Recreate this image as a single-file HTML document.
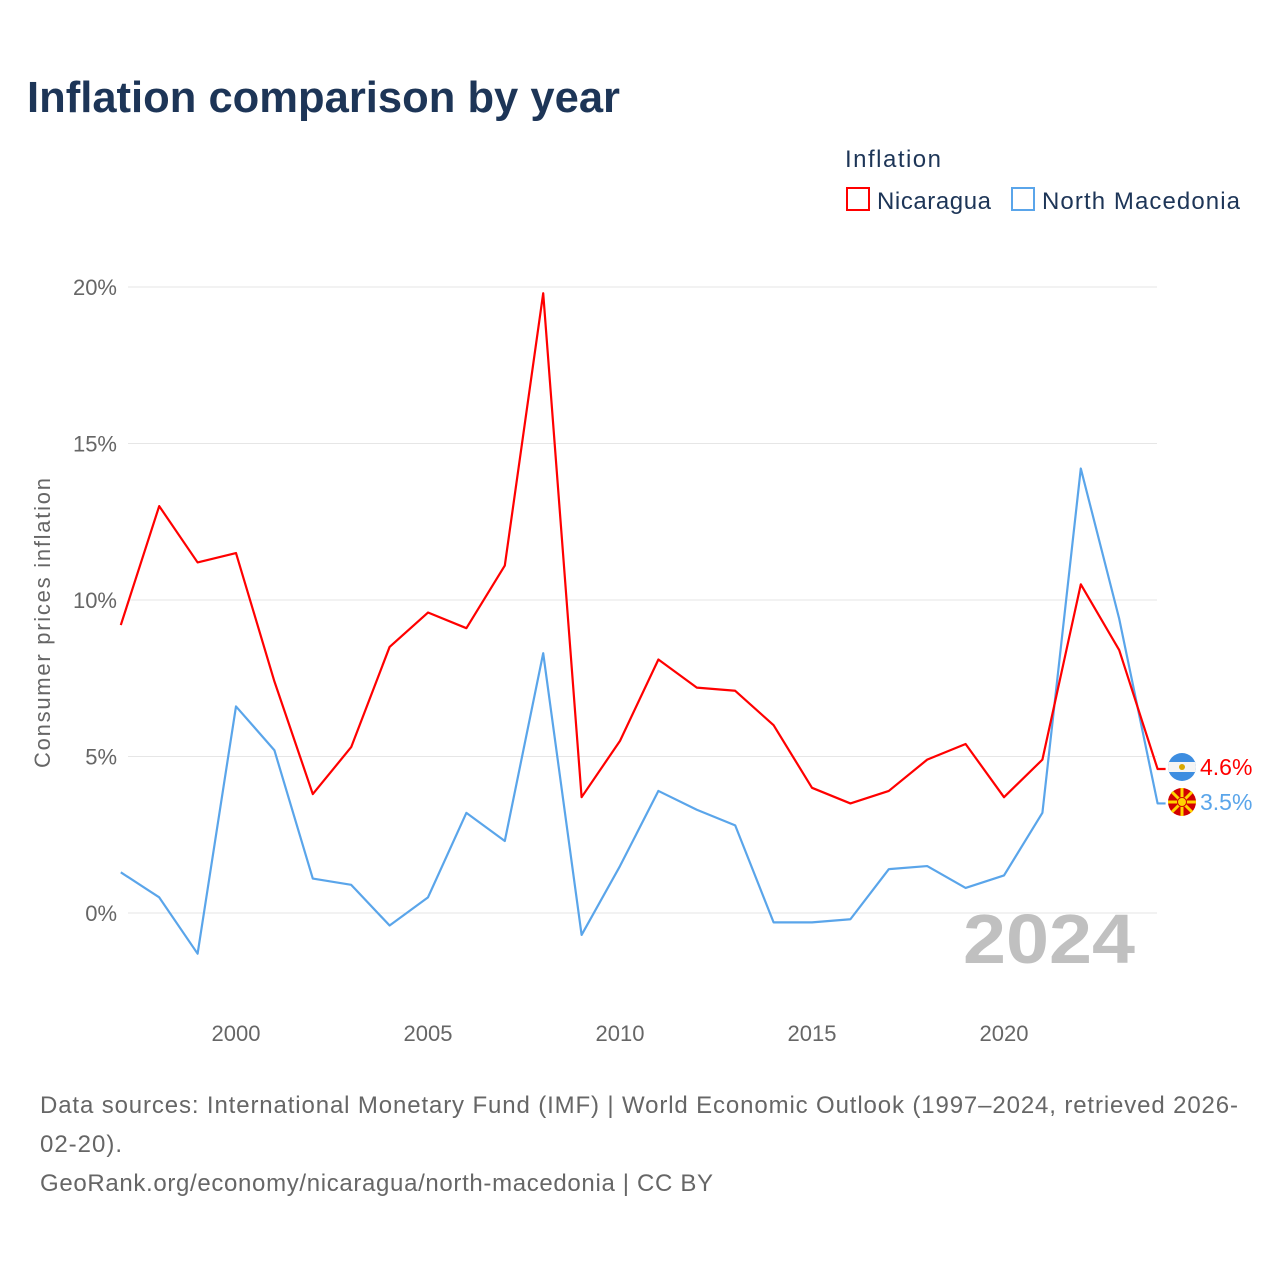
<!DOCTYPE html>
<html><head><meta charset="utf-8"><style>
body{margin:0;background:#fff;font-family:"Liberation Sans",sans-serif;}
</style></head><body>
<svg id="c" width="1280" height="1280" xmlns="http://www.w3.org/2000/svg">
<text x="27" y="112" font-size="44" font-weight="bold" fill="#1d3557" textLength="593" lengthAdjust="spacingAndGlyphs">Inflation comparison by year</text>
<text x="845" y="167" font-size="24" fill="#1d3557" textLength="96">Inflation</text>
<g><rect x="847" y="188" width="22" height="22" fill="none" stroke="#f00" stroke-width="2"/><text x="877" y="209" font-size="24" fill="#1d3557" textLength="114">Nicaragua</text></g>
<g><rect x="1012" y="188" width="22" height="22" fill="none" stroke="#5aa5ea" stroke-width="2"/><text x="1042" y="209" font-size="24" fill="#1d3557" textLength="198">North Macedonia</text></g>
<g id="grid"></g>
<text transform="translate(50,623) rotate(-90)" text-anchor="middle" font-size="22" fill="#666" textLength="290">Consumer prices inflation</text>
<text x="1135" y="963" text-anchor="end" font-size="70" font-weight="bold" fill="#c0c0c0" textLength="172" lengthAdjust="spacingAndGlyphs">2024</text>
<g id="lines"></g>
<g><clipPath id="cn"><circle cx="1182" cy="767" r="14"/></clipPath><g clip-path="url(#cn)"><rect x="1168" y="753" width="28" height="28" fill="#3d8de0"/><rect x="1168" y="762" width="28" height="10" fill="#f4f4f4"/><circle cx="1182" cy="767" r="3" fill="#d8a800"/></g></g>
<g><circle cx="1182" cy="802" r="14" fill="#d20000"/><g stroke="#ffd400" stroke-width="3"><line x1="1168" y1="802" x2="1196" y2="802"/><line x1="1182" y1="788" x2="1182" y2="816"/><line x1="1172" y1="792" x2="1192" y2="812"/><line x1="1192" y1="792" x2="1172" y2="812"/></g><circle cx="1182" cy="802" r="4.5" fill="#ffd400" stroke="#d20000" stroke-width="1"/></g>
<text x="1200" y="775" font-size="23" fill="#f00">4.6%</text>
<text x="1200" y="810" font-size="23" fill="#5aa5ea">3.5%</text>
<text x="40" y="1113" font-size="24" fill="#666" textLength="1198">Data sources: International Monetary Fund (IMF) | World Economic Outlook (1997–2024, retrieved 2026-</text>
<text x="40" y="1152" font-size="24" fill="#666" textLength="82">02-20).</text>
<text x="40" y="1191" font-size="24" fill="#666" textLength="673">GeoRank.org/economy/nicaragua/north-macedonia | CC BY</text>
</svg>
<script>
const years=[1997,1998,1999,2000,2001,2002,2003,2004,2005,2006,2007,2008,2009,2010,2011,2012,2013,2014,2015,2016,2017,2018,2019,2020,2021,2022,2023,2024];
const nicaragua=[9.2,13.0,11.2,11.5,7.4,3.8,5.3,8.5,9.6,9.1,11.1,19.8,3.7,5.5,8.1,7.2,7.1,6.0,4.0,3.5,3.9,4.9,5.4,3.7,4.9,10.5,8.4,4.6];
const macedonia=[1.3,0.5,-1.3,6.6,5.2,1.1,0.9,-0.4,0.5,3.2,2.3,8.3,-0.7,1.5,3.9,3.3,2.8,-0.3,-0.3,-0.2,1.4,1.5,0.8,1.2,3.2,14.2,9.4,3.5];
const yTicks=[0,5,10,15,20];
const xTicks=[2000,2005,2010,2015,2020];
const NS="http://www.w3.org/2000/svg";
const x=y=>120.8+(y-1997)*38.4;
const yv=v=>913-v*31.3;
const grid=document.getElementById('grid');
function mk(t,a,p){const e=document.createElementNS(NS,t);for(const k in a)e.setAttribute(k,a[k]);p.appendChild(e);return e;}
yTicks.forEach(t=>{
 const l=mk('line',{x1:128,x2:1157,y1:yv(t),y2:yv(t),stroke:'#e6e6e6','stroke-width':1},grid);
 
 
 const tx=mk('text',{x:117,y:yv(t)+8,'text-anchor':'end','font-size':22,fill:'#666'},grid);
 tx.textContent=t+'%';
 
 
});
xTicks.forEach(t=>{
 const tx=mk('text',{x:x(t),y:1041,'text-anchor':'middle','font-size':22,fill:'#666'},grid);
 tx.textContent=t;
 
 
});
const lines=document.getElementById('lines');
function series(vals,col,name){
 let d=vals.map((v,i)=>(i?'L':'M')+x(years[i])+','+yv(v)).join(' ');
 d+=' L'+(x(years[years.length-1])+8)+','+yv(vals[vals.length-1]);
 const p=mk('path',{d:d,fill:'none',stroke:col,'stroke-width':2.2,'stroke-linejoin':'round'},lines);
 
 
}
series(macedonia,'#5aa5ea','line-north-macedonia');
series(nicaragua,'#f00','line-nicaragua');
</script>
</body></html>
